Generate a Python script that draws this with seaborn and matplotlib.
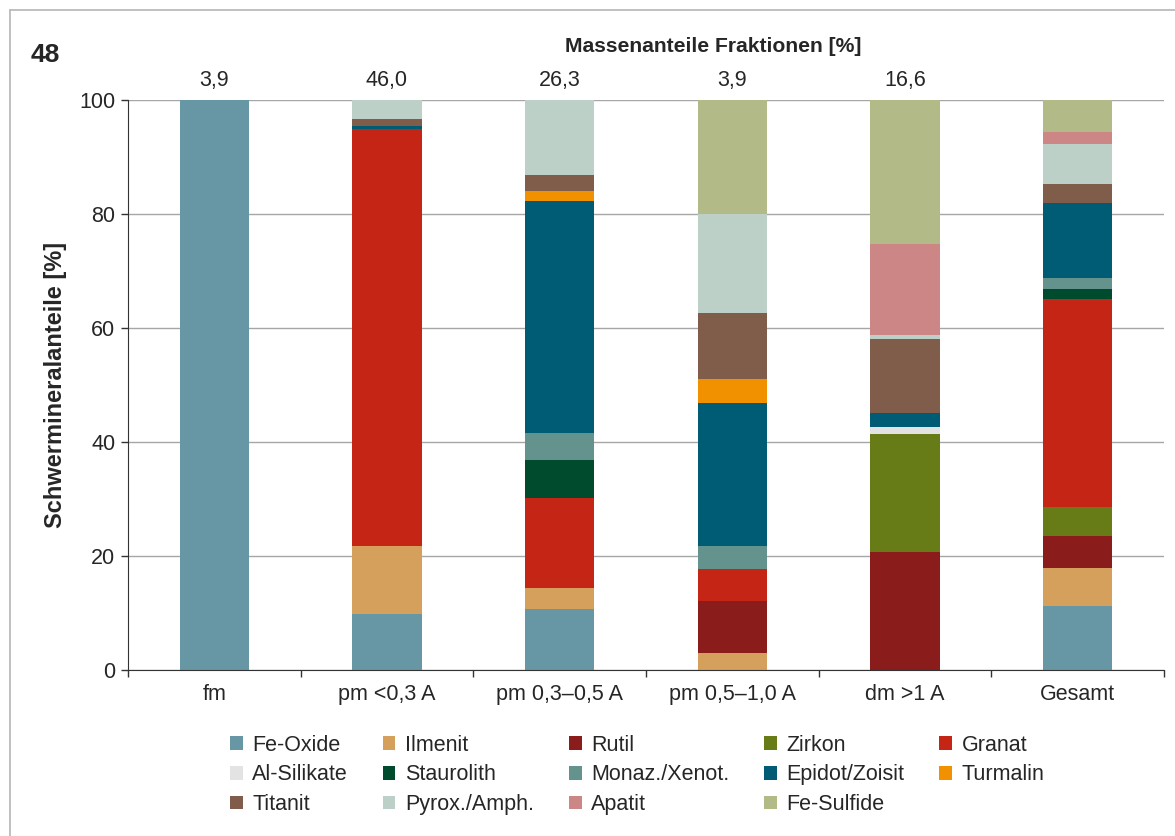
import numpy as np
import pandas as pd
import matplotlib
matplotlib.use("Agg")
import matplotlib.pyplot as plt
from matplotlib.patches import Patch
from matplotlib.lines import Line2D
import seaborn as sns

# categories (x) and mass fractions shown above the bars
fractions = ["fm", "pm <0,3 A", "pm 0,3–0,5 A", "pm 0,5–1,0 A", "dm >1 A", "Gesamt"]
mass_labels = ["3,9", "46,0", "26,3", "3,9", "16,6", ""]

# minerals, stacked bottom to top
minerals = ["Fe-Oxide", "Ilmenit", "Rutil", "Zirkon", "Granat", "Al-Silikate",
            "Staurolith", "Monaz./Xenot.", "Epidot/Zoisit", "Turmalin", "Titanit",
            "Pyrox./Amph.", "Apatit", "Fe-Sulfide"]
colors = ["#6797a5", "#d4a05c", "#8a1c1c", "#677c17", "#c42514", "#e3e3e3",
          "#004a2e", "#64938d", "#005b75", "#f29100", "#7f5d4a",
          "#bcd0c7", "#cc8685", "#b2bb87"]

# shares in % per fraction (same order as fractions)
fe_oxide   = [100.0,  9.8, 10.7,  0.0,  0.0, 11.3]
ilmenit    = [0.0,   11.9,  3.7,  2.9,  0.0,  6.6]
rutil      = [0.0,    0.0,  0.0,  9.2, 20.7,  5.6]
zirkon     = [0.0,    0.0,  0.0,  0.0, 20.7,  5.1]
granat     = [0.0,   73.2, 15.8,  5.6,  0.0, 36.5]
al_silikat = [0.0,    0.0,  0.0,  0.0,  1.2,  0.0]
staurolith = [0.0,    0.0,  6.6,  0.0,  0.0,  1.8]
monazit    = [0.0,    0.0,  4.7,  4.0,  0.0,  1.8]
epidot     = [0.0,    0.6, 40.8, 25.1,  2.5, 13.3]
turmalin   = [0.0,    0.0,  1.7,  4.3,  0.0,  0.0]
titanit    = [0.0,    1.1,  2.9, 11.5, 13.0,  3.2]
pyroxen    = [0.0,    3.4, 13.1, 17.4,  0.7,  7.1]
apatit     = [0.0,    0.0,  0.0,  0.0, 16.0,  2.1]
fe_sulfid  = [0.0,    0.0,  0.0, 20.0, 25.2,  5.6]

shares = [fe_oxide, ilmenit, rutil, zirkon, granat, al_silikat, staurolith,
          monazit, epidot, turmalin, titanit, pyroxen, apatit, fe_sulfid]

df = pd.DataFrame(np.array(shares).T, columns=minerals)
df.insert(0, "fraction", fractions)
cum = df[minerals].cumsum(axis=1)

sns.set_style("white")
plt.rcParams["font.family"] = ["Liberation Sans", "DejaVu Sans"]

fig = plt.figure(figsize=(11.75, 8.36), dpi=100)
ax = fig.add_axes([128 / 1175, 1 - 670 / 836, 1036 / 1175, 570 / 836])

# draw cumulative bars from top to bottom so each segment shows
for m, c in zip(minerals[::-1], colors[::-1]):
    sns.barplot(x=df["fraction"], y=cum[m], color=c, saturation=1, width=0.4,
                order=fractions, ax=ax, linewidth=0)

ax.set_ylim(0, 100)
ax.set_xlim(-0.5, 5.5)
ax.set_yticks(np.arange(0, 101, 20))
ax.yaxis.grid(True, color="#a6a6a6", linewidth=1)
ax.set_axisbelow(True)
for s in ["top", "right"]:
    ax.spines[s].set_visible(False)
ax.spines["left"].set_color("#333333")
ax.spines["bottom"].set_color("#333333")
ax.tick_params(axis="y", left=True, length=5, width=1, color="#333333", labelsize=15.5, pad=4)
ax.tick_params(axis="x", which="major", length=0, labelsize=15.5, pad=10)
ax.set_xticks(np.arange(-0.5, 5.6, 1.0), minor=True)
ax.tick_params(axis="x", which="minor", bottom=True, length=5, width=1, color="#333333")
ax.set_xlabel("")
ax.set_ylabel("Schwermineralanteile [%]", fontsize=17, fontweight="bold", labelpad=9)

for i, lab in enumerate(mass_labels):
    ax.annotate(lab, xy=(i, 100), xytext=(0, 14), textcoords="offset points",
                ha="center", va="center", fontsize=15.5)

fig.text(713 / 1175, 1 - 46 / 836, "Massenanteile Fraktionen [%]", ha="center",
         va="center", fontsize=15.25, fontweight="bold")
fig.text(31 / 1175, 1 - 55 / 836, "48", ha="left", va="center", fontsize=19,
         fontweight="bold")

handles = [Patch(facecolor=c, edgecolor="none", label=m) for m, c in zip(minerals, colors)]
# reorder so the legend reads row by row
order = [0, 5, 10, 1, 6, 11, 2, 7, 12, 3, 8, 13, 4, 9]
fig.legend([handles[i] for i in order], [minerals[i] for i in order], ncol=5,
           loc="upper left", bbox_to_anchor=(219 / 1175, 1 - 724 / 836),
           frameon=False, fontsize=15.5, handlelength=0.6, handleheight=0.6,
           handletextpad=0.45, columnspacing=1.6, labelspacing=0.4, borderpad=0)

# frame lines at top and left of the figure
fig.add_artist(Line2D([10 / 1175, 1], [1 - 10 / 836, 1 - 10 / 836], color="#b5b5b5", lw=1.2))
fig.add_artist(Line2D([10 / 1175, 10 / 1175], [0, 1 - 10 / 836], color="#b5b5b5", lw=1.2))

fig.savefig("out.png", dpi=100)
